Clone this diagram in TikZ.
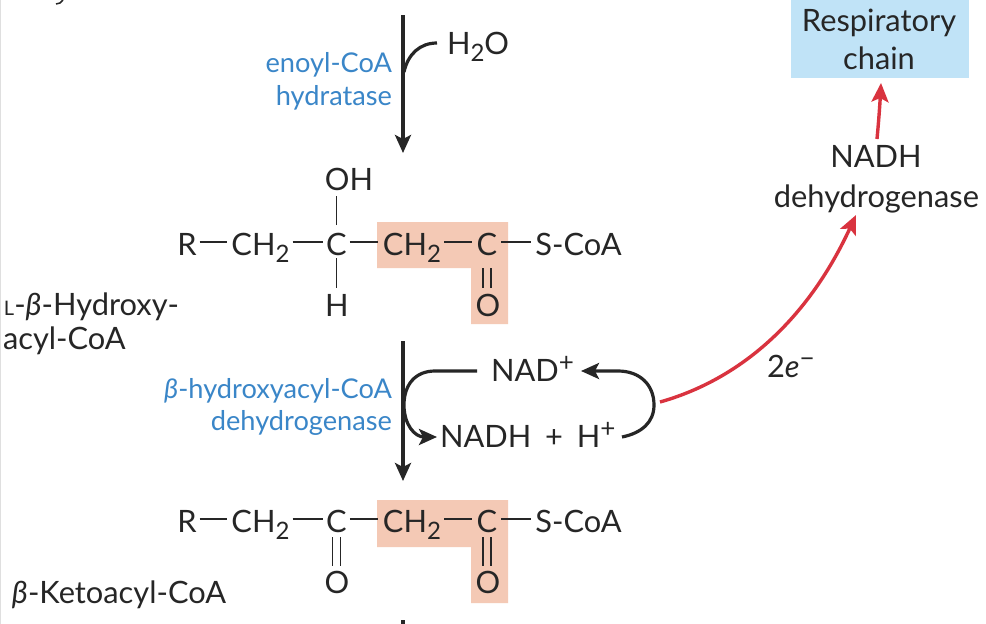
\documentclass[tikz,border=0pt]{standalone}
\usepackage{fontspec}
\setmainfont{Lato}
\usetikzlibrary{arrows.meta}
\definecolor{enz}{HTML}{3A86C8}
\definecolor{rd}{HTML}{D9333F}
\definecolor{hl}{HTML}{F4C9B5}
\definecolor{bx}{HTML}{C0E3F7}
\definecolor{ink}{HTML}{262626}
\tikzset{
 x=1pt,y=-1pt,
 atom/.style={inner sep=0pt,outer sep=0pt,text height=26pt,text depth=0pt,anchor=center,font=\fontsize{30.8}{30.8}\selectfont,text=ink},
 txt/.style={inner sep=0pt,outer sep=0pt,anchor=base,font=\fontsize{30.8}{30.8}\selectfont,text=ink},
 enzt/.style={inner sep=0pt,outer sep=0pt,anchor=base east,font=\fontsize{27.2}{27.2}\selectfont,text=enz},
 bond/.style={draw=ink,line width=1.3pt},
 dbl left/.style={bond,transform canvas={xshift=-4pt}},
 dbl right/.style={bond,transform canvas={xshift=4pt}},
 main/.style={draw=ink,line width=3.2pt,-{Stealth[length=18pt,width=16pt,inset=4pt]}},
 nad/.style={draw=ink,line width=3.2pt,-{Stealth[length=18pt,width=16pt,inset=4pt]}},
 redar/.style={draw=rd,line width=3.4pt,-{Stealth[length=19pt,width=17pt,inset=4pt]}},
}
\newcommand{\sbt}[1]{\raisebox{-7pt}{\fontsize{24}{24}\selectfont #1}}
\newcommand{\spt}[1]{\raisebox{10pt}{\fontsize{26}{26}\selectfont #1}}
\newcommand{\chtwo}{CH\sbt{2}}
\begin{document}
\begin{tikzpicture}
\useasboundingbox (0,0) rectangle (986,624);
\fill[white] (0,0) rectangle (986,624);
\draw[gray!25,line width=1pt] (0.5,0) -- (0.5,624);
% highlights
\fill[hl] (377,222) -- (508,222) -- (508,324) -- (471,324) -- (471,268) -- (377,268) -- cycle;
\fill[hl] (377,500) -- (508,500) -- (508,603) -- (471,603) -- (471,547) -- (377,547) -- cycle;
\node[fill=bx,minimum width=178pt,minimum height=78pt,inner sep=0pt,anchor=north west] (box) at (791,0) {};
% clipped descender of the cut-off line above
\draw[ink,line width=1.5pt] (63,0) -- (60,3) -- (56,4);
% row 1
\node[atom,anchor=base] (r1) at (187,255) {R};
\node[atom,anchor=base] (a1) at (260.5,255) {\chtwo};
\node[atom,anchor=base] (c1) at (336.5,255) {C};
\node[atom,anchor=base] (b1) at (412,255) {\chtwo};
\node[atom,anchor=base] (d1) at (487,255) {C};
\node[atom,anchor=base] (s1) at (578.5,255) {S-CoA};
\node[atom,anchor=base] (oh) at (349,190) {OH};
\node[atom,anchor=base] (h1) at (337,316) {H};
\node[atom,anchor=base] (o1) at (488,316) {O};
% row 2
\node[atom,anchor=base] (r2) at (187,532) {R};
\node[atom,anchor=base] (a2) at (260.5,532) {\chtwo};
\node[atom,anchor=base] (c2) at (336.5,532) {C};
\node[atom,anchor=base] (b2) at (412,532) {\chtwo};
\node[atom,anchor=base] (d2) at (487,532) {C};
\node[atom,anchor=base] (s2) at (578.5,532) {S-CoA};
\node[atom,anchor=base] (o3) at (337,593) {O};
\node[atom,anchor=base] (o4) at (488,593) {O};
% bonds
\foreach \n in {1,2}{
 \draw[bond,shorten <=3pt,shorten >=4pt] (r\n.east) -- (a\n.west);
 \draw[bond,shorten <=3pt,shorten >=3pt] (a\n.east) -- (c\n.west);
 \draw[bond,shorten <=3pt,shorten >=5pt] (c\n.east) -- (b\n.west);
 \draw[bond,shorten <=3pt,shorten >=5pt] (b\n.east) -- (d\n.west);
 \draw[bond,shorten <=4pt,shorten >=4pt] (d\n.east) -- (s\n.west);
}
\draw[bond,shorten <=4pt,shorten >=6pt] (c1.north) -- (c1.north |- oh.south);
\draw[bond,shorten <=3pt,shorten >=2pt] (c1.south) -- (c1.south |- h1.north);
\draw[dbl left,shorten <=13pt,shorten >=2pt] (d1.south) -- (d1.south |- o1.north);
\draw[dbl right,shorten <=13pt,shorten >=2pt] (d1.south) -- (d1.south |- o1.north);
\draw[dbl left,shorten <=5pt,shorten >=1pt] (c2.south) -- (c2.south |- o3.north);
\draw[dbl right,shorten <=5pt,shorten >=1pt] (c2.south) -- (c2.south |- o3.north);
\draw[dbl left,shorten <=5pt,shorten >=1pt] (d2.south) -- (d2.south |- o4.north);
\draw[dbl right,shorten <=5pt,shorten >=1pt] (d2.south) -- (d2.south |- o4.north);
% labels
\node[txt,anchor=base west] (lh) at (4,315) {{\fontsize{20}{20}\selectfont L}-{\itshape β}-Hydroxy-};
\node[txt,anchor=base west] (la) at (3,349) {acyl-CoA};
\node[txt,anchor=base west] (lk) at (12,603) {{\itshape β}-Ketoacyl-CoA\hspace{-1pt}};
\node[enzt] (e1) at (392,72) {enoyl-CoA};
\node[enzt] (e2) at (392,105) {hydratase};
\node[enzt] (e3) at (392,398) {{\itshape β}-hydroxyacyl-CoA};
\node[enzt] (e4) at (392,430) {dehydrogenase};
\node[txt,anchor=base west] (w) at (447,54) {H\sbt{2}O};
\node[txt,anchor=base west] (nad) at (491,381) {NAD\spt{+}};
\node[txt,anchor=base west] (nadh) at (440,447) {NADH\hspace{6pt} + \hspace{6pt}H\spt{+}};
\node[txt] (rc1) at (879,31) {Respiratory};
\node[txt] (rc2) at (879,69) {chain};
\node[txt] (nd1) at (876,167) {NADH};
\node[txt] (nd2) at (876.5,207) {dehydrogenase};
\node[txt,anchor=base west] (te) at (767,377) {2{\itshape e}\spt{−}};
% main arrows
\coordinate (m1) at (403,15); \coordinate (m2) at (403,153);
\coordinate (m3) at (403,341); \coordinate (m4) at (403,481);
\coordinate (m5) at (403,620); \coordinate (m6) at (403,624);
\coordinate (wj) at (404,72); \coordinate (ws) at (437,43);
\draw[main] (m1) -- (m2);
\draw[main] (m3) -- (m4);
\draw[draw=ink,line width=3.2pt] (m5) -- (m6);
\draw[draw=ink,line width=3.2pt] (wj) .. controls (408,54) and (420,43) .. (ws);
% NAD cycle
\coordinate (n1) at (477,371); \coordinate (n2) at (437,437);
\coordinate (n3) at (622,437); \coordinate (n4) at (581,371);
\coordinate (nl) at (404,405); \coordinate (nr) at (654,405);
\draw[nad] (n1) -- (435,371) .. controls (415,371) and (404,385) .. (nl) .. controls (404,425) and (415,437) .. (n2);
\draw[nad] (n3) .. controls (642,433) and (654,422) .. (nr) .. controls (654,385) and (640,371) .. (618,371) -- (n4);
% red arrows
\coordinate (r1s) at (660,402); \coordinate (r1e) at (856,215);
\coordinate (r2s) at (877,139); \coordinate (r2e) at (881,83);
\draw[redar] (r1s) .. controls (745,378) and (810,315) .. (r1e);
\draw[redar] (r2s) .. controls (879,118) and (880,102) .. (r2e);
\end{tikzpicture}
\end{document}
